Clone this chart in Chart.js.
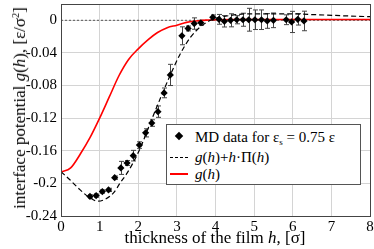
<!DOCTYPE html>
<html>
<head>
<meta charset="utf-8">
<script src="https://cdn.jsdelivr.net/npm/chart.js@4.4.1/dist/chart.umd.min.js"></script>
<style>
    html, body { margin: 0; padding: 0; background: #fff; }
    #wrap { position: relative; width: 374px; height: 249px; font-family: "Liberation Serif", serif; color: #000; }
    #chart { position: absolute; left: 0; top: 0; }
    .ytitle { position: absolute; left: 20px; top: 108px; transform: translate(-50%, -50%) rotate(-90deg); white-space: nowrap; font-size: 17px; }
    .xtitle { position: absolute; left: 215px; top: 238px; transform: translate(-50%, -50%); white-space: nowrap; font-size: 17px; }
    .legend { position: absolute; left: 166px; top: 124px; width: 195px; height: 61px; border: 1px solid #555; background: #fff; box-sizing: border-box; font-size: 15px; }
    .row { position: absolute; left: 0; height: 20px; line-height: 20px; white-space: nowrap; }
    .row span.txt { position: absolute; left: 28px; top: 0; }
    .mk { position: absolute; left: 9px; top: 6px; width: 6px; height: 6px; background: #000; transform: rotate(45deg); }
    .dash { position: absolute; left: 3px; top: 10px; width: 18px; border-top: 1.3px dashed #000; }
    .red { position: absolute; left: 3px; top: 9px; width: 18px; border-top: 2px solid #f00; }
    sub { font-size: 9px; vertical-align: -3px; }
    sup { font-size: 10px; vertical-align: 6px; }
</style>
</head>
<body>
<div id="wrap">
    <canvas id="chart" width="374" height="249"></canvas>
    <div class="ytitle">interface potential <i>g</i>(<i>h</i>), [ε/σ<sup>2</sup>]</div>
    <div class="xtitle">thickness of the film <i>h</i>, [σ]</div>
    <div class="legend">
        <div class="row" style="top:2px"><div class="mk"></div><span class="txt">MD data for ε<sub>s</sub> = 0.75 ε</span></div>
        <div class="row" style="top:22px"><div class="dash"></div><span class="txt"><i>g</i>(<i>h</i>)+<i>h</i>·Π(<i>h</i>)</span></div>
        <div class="row" style="top:39px"><div class="red"></div><span class="txt"><i>g</i>(<i>h</i>)</span></div>
    </div>
</div>
<script>
// MD data points
const mdH = [0.75, 0.91, 1.07, 1.23, 1.39, 1.55, 1.71, 1.87, 2.03, 2.19, 2.35, 2.51, 2.67, 2.83,
    3.13, 3.29, 3.45, 3.62, 3.93, 4.09, 4.23, 4.39, 4.55, 4.71, 4.86, 5.02, 5.19, 5.34, 5.50,
    5.83, 5.97, 6.13, 6.29];
const mdG = [-0.216, -0.215, -0.210, -0.208, -0.193, -0.181, -0.175, -0.166, -0.153, -0.138, -0.126, -0.112, -0.089, -0.067,
    -0.019, -0.010, -0.004, -0.003, 0.0036, 0.0012, -0.0012, 0, 0.0007, 0.0007, 0.0007, 0.0007, 0.0007, -0.0008, 0,
    0.0007, -0.002, 0.0012, -0.0008];
const mdErr = [0.002, 0.002, 0.002, 0.002, 0.002, 0.008, 0.003, 0.0065, 0.004, 0.005, 0.004, 0.007, 0.006, 0.013,
    0.011, 0.003, 0.007, 0.003, 0.003, 0.006, 0.007, 0.008, 0.005, 0.008, 0.014, 0.012, 0.012, 0.009, 0.009,
    0.006, 0.013, 0.007, 0.012];

// g(h) + h*Pi(h), dashed
const fitH = [0, 0.23, 0.49, 0.75, 0.95, 1.13, 1.36, 1.53, 1.71, 1.88, 2.05, 2.31, 2.57, 2.83, 3.09, 3.35, 3.61, 3.87, 4.39, 4.91, 5.77, 6.64, 7.5, 8];
const fitG = [-0.1856, -0.1956, -0.2077, -0.2178, -0.2218, -0.2198, -0.2117, -0.1996, -0.1875, -0.1735, -0.157, -0.126, -0.096, -0.067, -0.041, -0.021, -0.008, 0.0, 0.006, 0.008, 0.008, 0.0068, 0.0052, 0.0044];

// g(h), red
const gH = [0, 0.25, 0.5, 0.75, 1, 1.25, 1.5, 1.75, 2, 2.25, 2.5, 2.75, 3, 3.25, 3.5, 3.75, 4, 4.5, 5, 6, 7, 8];
const gG = [-0.186, -0.181, -0.164, -0.144, -0.120, -0.094, -0.068, -0.048, -0.035, -0.024, -0.015, -0.009, -0.006, -0.0025, -0.0008, 0.0002, 0.0007, 0.001, 0.001, 0.001, 0.001, 0.001];

const xTicks = [0, 1, 2, 3, 4, 5, 6, 7, 8];
const yTicks = [-0.24, -0.2, -0.16, -0.12, -0.08, -0.04, 0];

const toXY = (xs, ys) => xs.map((x, i) => ({ x: x, y: ys[i] }));

const errorBars = {
    id: 'errorBars',
    beforeDatasetsDraw(chart) {
        const { ctx, scales } = chart;
        ctx.save();
        ctx.strokeStyle = '#444';
        ctx.lineWidth = 1;
        mdH.forEach((h, i) => {
            const px = Math.round(scales.x.getPixelForValue(h)) + 0.5;
            const top = scales.y.getPixelForValue(mdG[i] + mdErr[i]);
            const bot = scales.y.getPixelForValue(mdG[i] - mdErr[i]);
            ctx.beginPath();
            ctx.moveTo(px, top); ctx.lineTo(px, bot);
            ctx.moveTo(px - 2.5, top); ctx.lineTo(px + 2.5, top);
            ctx.moveTo(px - 2.5, bot); ctx.lineTo(px + 2.5, bot);
            ctx.stroke();
        });
        ctx.restore();
    }
};

const frame = {
    id: 'frame',
    afterDraw(chart) {
        const a = chart.chartArea;
        const ctx = chart.ctx;
        ctx.save();
        ctx.strokeStyle = '#444';
        ctx.lineWidth = 1;
        ctx.strokeRect(Math.round(a.left) + 0.5, Math.round(a.top) + 0.5, Math.round(a.right - a.left), Math.round(a.bottom - a.top));
        ctx.restore();
    }
};

new Chart(document.getElementById('chart'), {
    type: 'scatter',
    data: {
        datasets: [
            {
                label: 'MD data',
                data: toXY(mdH, mdG),
                showLine: false,
                pointStyle: 'rectRot',
                pointRadius: 3.6,
                backgroundColor: '#000',
                borderColor: '#000',
                borderWidth: 0
            },
            {
                label: 'g(h)+h·Π(h)',
                data: toXY(fitH, fitG),
                showLine: true,
                borderColor: '#000',
                borderWidth: 1.2,
                borderDash: [5, 3],
                pointRadius: 0,
                cubicInterpolationMode: 'monotone'
            },
            {
                label: 'g(h)',
                data: toXY(gH, gG),
                showLine: true,
                borderColor: '#ff0000',
                borderWidth: 1.6,
                pointRadius: 0,
                cubicInterpolationMode: 'monotone'
            },
            {
                label: 'zero',
                data: toXY([0, 8], [0, 0]),
                showLine: true,
                borderColor: '#555',
                borderWidth: 1,
                borderDash: [2, 2],
                pointRadius: 0
            }
        ]
    },
    options: {
        responsive: false,
        animation: false,
        layout: { padding: { top: 1, right: 4, left: 0, bottom: 0 } },
        plugins: {
            legend: { display: false },
            tooltip: { enabled: false }
        },
        scales: {
            x: {
                type: 'linear',
                min: 0,
                max: 8,
                afterFit: (s) => { s.height = 33; s.paddingLeft = 0; s.paddingRight = 0; },
                afterBuildTicks: (s) => { s.ticks = xTicks.map(v => ({ value: v })); },
                ticks: {
                    padding: 2,
                    color: '#000',
                    font: { family: 'Liberation Serif', size: 15 },
                    callback: (v) => String(v)
                },
                grid: { color: '#d4d4d4', drawTicks: false },
                border: { display: false }
            },
            y: {
                type: 'linear',
                min: -0.24,
                max: 0.02,
                afterFit: (s) => { s.width = 61; s.paddingTop = 0; s.paddingBottom = 0; },
                afterBuildTicks: (s) => { s.ticks = yTicks.map(v => ({ value: v })); },
                ticks: {
                    padding: 4,
                    color: '#000',
                    font: { family: 'Liberation Serif', size: 15 },
                    callback: (v) => String(Number(v.toFixed(2)))
                },
                grid: { color: '#d4d4d4', drawTicks: false },
                border: { display: false }
            }
        }
    },
    plugins: [errorBars, frame]
});
</script>
</body>
</html>
